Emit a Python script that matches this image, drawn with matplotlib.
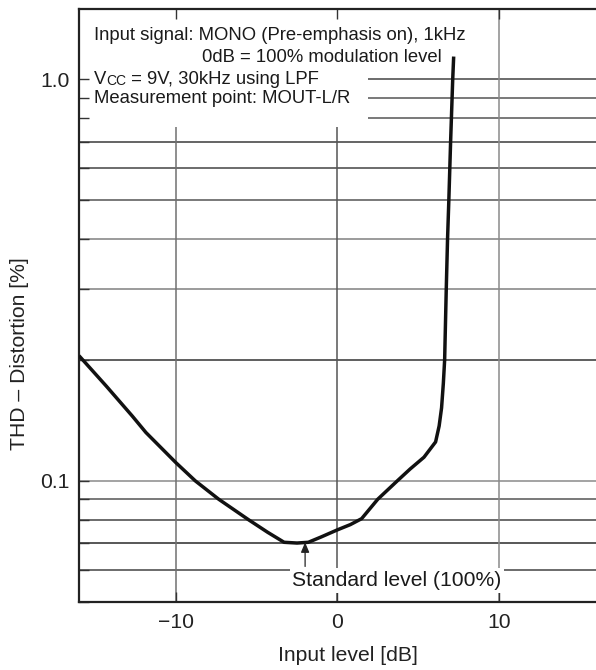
import matplotlib
matplotlib.use("Agg")
import matplotlib.pyplot as plt
from matplotlib.patches import Rectangle
from matplotlib.ticker import FixedLocator, NullFormatter

plt.rcParams['font.family'] = ['Liberation Sans', 'DejaVu Sans']

# ---- data ----
input_level_db = [-16, -14.3, -12.7, -11.86, -10, -8.8, -7.35, -5.5, -4.33, -3.3,
                  -2.5, -1.8, -1.0, 0, 0.8, 1.5, 2.5, 3.71, 4.5, 5.36,
                  6.08, 6.3, 6.45, 6.56, 6.64, 6.74, 6.82, 6.9, 7.01, 7.14, 7.2]
thd_percent = [0.205, 0.172, 0.145, 0.132, 0.111, 0.100, 0.090, 0.080, 0.0745, 0.0703,
               0.0700, 0.0703, 0.0725, 0.0755, 0.0778, 0.0805, 0.090, 0.100, 0.107, 0.1145,
               0.125, 0.137, 0.152, 0.175, 0.200, 0.300, 0.400, 0.500, 0.700, 1.000, 1.14]

x_ticks = [-10, 0, 10]
x_tick_labels = ["\u221210", "0", "10"]
y_major = [0.1, 1.0]
y_major_labels = ["0.1", "1.0"]
y_minor = [0.05, 0.06, 0.07, 0.08, 0.09, 0.2, 0.3, 0.4, 0.5, 0.6, 0.7, 0.8, 0.9]
y_grid = [0.06, 0.07, 0.08, 0.09, 0.1, 0.2, 0.3, 0.4, 0.5, 0.6, 0.7, 0.8, 0.9, 1.0]
y_grid_shade = ['#444444', '#2a2a2a', '#444444', '#555555', '#8a8a8a', '#333333',
                '#808080', '#808080', '#555555', '#444444', '#3a3a3a', '#555555',
                '#555555', '#444444']
x_grid_shade = ['#707070', '#555555', '#8a8a8a']
standard_level_db = -2.0

fig = plt.figure(figsize=(5.96, 6.70), dpi=100)
ax = fig.add_axes([79/596, 68.3/670, 516.8/596, 593/670])
ax.set_yscale('log')
ax.set_xlim(-16, 16)
ax.set_ylim(0.05, 1.5)

FS_BOX = 13.3
FS = 15.2

for yv, c in zip(y_grid, y_grid_shade):
    ax.axhline(yv, color=c, lw=1.1, zorder=1)
for xv, c in zip(x_ticks, x_grid_shade):
    ax.axvline(xv, color=c, lw=1.1, zorder=1)

# white box behind the annotation text
ax.add_patch(Rectangle((0, 0.80), 0.56, 0.2, transform=ax.transAxes,
                       facecolor='white', edgecolor='none', zorder=1.5))

ax.plot(input_level_db, thd_percent, color='#111111', lw=2.5, zorder=3,
        solid_joinstyle='round', solid_capstyle='butt')

ax.set_xticks(x_ticks)
ax.set_xticklabels(x_tick_labels)
ax.yaxis.set_major_locator(FixedLocator(y_major))
ax.set_yticklabels(y_major_labels)
ax.yaxis.set_minor_locator(FixedLocator(y_minor))
ax.yaxis.set_minor_formatter(NullFormatter())
ax.xaxis.set_minor_locator(FixedLocator([]))
ax.tick_params(axis='both', which='both', direction='in', length=7, width=1.0,
               color='#333333', labelsize=FS, labelcolor='#222222',
               top=True, right=False)
ax.tick_params(axis='x', pad=8.2)
ax.tick_params(axis='y', pad=6.5)

for s in ax.spines.values():
    s.set_linewidth(1.6)
    s.set_color('#222222')
ax.spines['right'].set_visible(False)

ax.set_xlabel("Input level [dB]", fontsize=FS, color='#222222')
ax.set_ylabel("THD \u2013 Distortion [%]", fontsize=FS, color='#222222')
ax.xaxis.set_label_coords(0.5205, -0.074)
ax.yaxis.set_label_coords(-0.0958, 0.419)

tc = '#1a1a1a'
ax.text(-15.07, 1.288, "Input signal: MONO (Pre-emphasis on), 1kHz",
        fontsize=FS_BOX, color=tc, va='center', ha='left', zorder=4)
ax.text(-8.36, 1.133, "0dB = 100% modulation level",
        fontsize=FS_BOX, color=tc, va='center', ha='left', zorder=4)
t1 = ax.text(-15.07, 1.0, "V", fontsize=FS_BOX, color=tc, va='center', ha='left', zorder=4)
t2 = ax.annotate("CC", xy=(1, 0), xycoords=t1, va='bottom', ha='left',
                 fontsize=FS_BOX * 0.75, color=tc, zorder=4)
ax.annotate(" = 9V, 30kHz using LPF", xy=(1, 0), xycoords=t2, va='bottom',
            ha='left', fontsize=FS_BOX, color=tc, zorder=4)
ax.text(-15.07, 0.895, "Measurement point: MOUT-L/R",
        fontsize=FS_BOX, color=tc, va='center', ha='left', zorder=4)

# standard level marker
ax.annotate("", xy=(standard_level_db, 0.0703), xytext=(standard_level_db, 0.0612),
            arrowprops=dict(arrowstyle='-|>,head_length=0.6,head_width=0.25',
                            color='#222222', lw=0.9, shrinkA=0, shrinkB=0),
            zorder=4)
ax.text(-2.79, 0.0565, "Standard level (100%)", fontsize=FS, color=tc,
        va='center', ha='left', zorder=2,
        bbox=dict(facecolor='white', edgecolor='none', pad=2.0))

fig.savefig("out.png", dpi=100)
